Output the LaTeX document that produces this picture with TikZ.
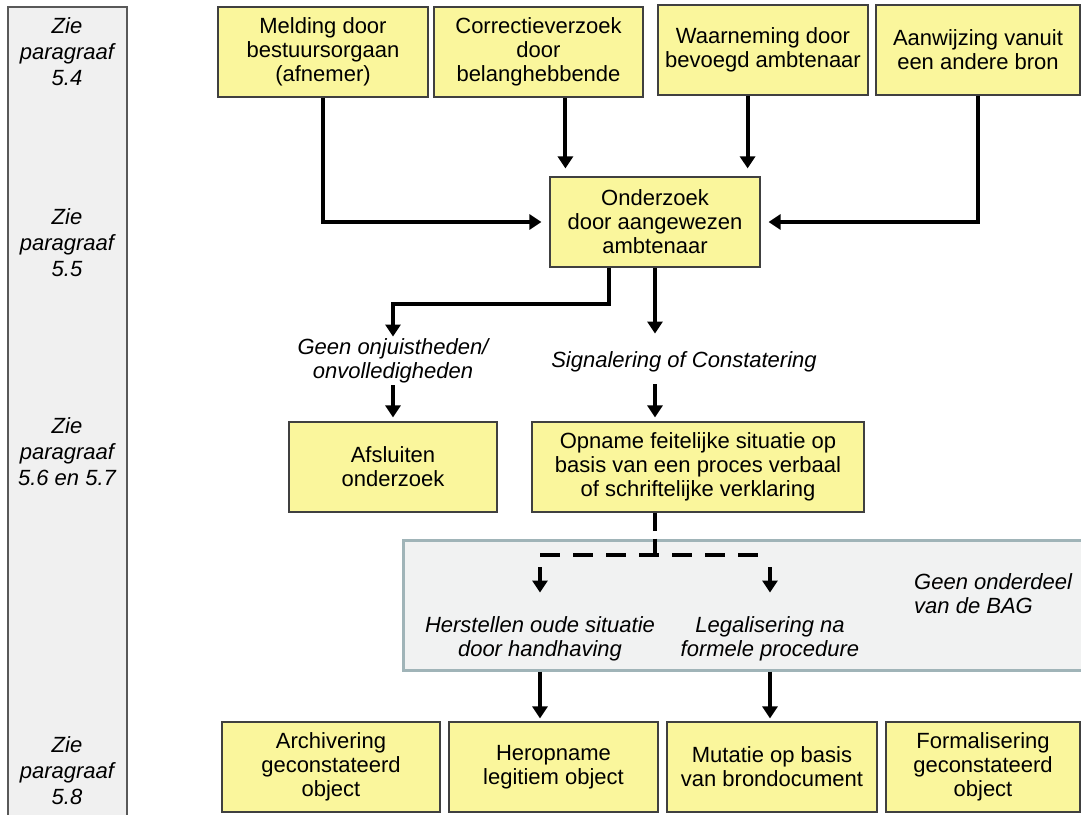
\documentclass[tikz,border=0pt]{standalone}
\usepackage{fontspec}
\setmainfont{Liberation Sans}
\usetikzlibrary{arrows.meta,positioning,calc}

\definecolor{boxyellow}{RGB}{250,246,156}
\definecolor{sidegray}{RGB}{240,240,240}
\definecolor{bagfill}{RGB}{241,242,242}
\definecolor{bagline}{RGB}{160,180,184}

\begin{document}
\begin{tikzpicture}
	[   x=1pt,y=-1pt,
		ybox/.style={draw=black!75,line width=1.2pt,fill=boxyellow,minimum height=90pt,minimum width=#1,align=center,inner sep=2pt,font=\fontsize{22}{24}\selectfont},
		itext/.style={align=center,inner sep=2pt,font=\fontsize{22}{24}\selectfont\itshape},
		bagbox/.style={draw=bagline,line width=3pt,fill=bagfill,minimum width=687pt,minimum height=130pt},
	]
	\tikzset{thick arrow/.style={draw,line width=4pt,-{Triangle[length=12pt,width=15pt]}}}
	\tikzset{dash line/.style={draw,line width=4pt,dash pattern=on 20pt off 13pt}}
	\useasboundingbox (0,0) rectangle (1081,814);
	
	\draw[draw=black!65,line width=1.5pt,fill=sidegray] (8,7) rectangle (127,840);
	\foreach \y/\nr [count=\i] in {52/5.4, 243/5.5, 452/{5.6 en 5.7}, 771/5.8}
	{
		\node[align=center,font=\fontsize{22}{26}\selectfont\itshape] (zie-\i) at (67,\y) {Zie\\paragraaf\\\nr};
	}
	
	\node[ybox=210pt] (mel) at (323,52) {Melding door\\bestuursorgaan\\(afnemer)};
	\node[ybox=209pt] (cor) at (538.5,52) {Correctieverzoek\\door\\belanghebbende};
	\node[ybox=210pt] (waa) at (763,50) {Waarneming door\\bevoegd ambtenaar};
	\node[ybox=204pt] (aan) at (978,50) {Aanwijzing vanuit\\een andere bron};
	
	\node[ybox=210pt] (ond) at (655,222) {Onderzoek\\door aangewezen\\ambtenaar};
	\coordinate (ond-l) at ([xshift=16pt]ond.north west);
	\coordinate (ond-r) at ([xshift=-13pt]ond.north east);
	\coordinate (ond-a) at ([xshift=60pt]ond.south west);
	\coordinate (split) at (0,304);
	
	\path[thick arrow,shorten >=8pt] (mel.south) |- (ond.west);
	\path[thick arrow,shorten >=8pt] (cor.south -| ond-l) -- (ond-l);
	\path[thick arrow,shorten >=8pt] (waa.south -| ond-r) -- (ond-r);
	\path[thick arrow,shorten >=8pt] (aan.south) |- (ond.east);
	
	\node[itext] (geen) at (393,361) {Geen onjuistheden/\\onvolledigheden};
	\node[itext] (sig) at (684,362) {Signalering of Constatering};
	\path[thick arrow] (ond-a) -- (ond-a |- split) -| (geen.north);
	\path[thick arrow,shorten >=16pt] (ond.south) -- (ond.south |- sig.north);
	
	\node[ybox=208pt] (afs) at (393,467) {Afsluiten\\onderzoek};
	\node[ybox=332pt] (opn) at (698,467) {Opname feitelijke situatie op\\basis van een proces verbaal\\of schriftelijke verklaring};
	\path[thick arrow,shorten >=4pt] (geen.south) -- (afs.north);
	\path[thick arrow,shorten <=10pt,shorten >=4pt] (ond.south |- sig.south) -- (ond.south |- opn.north);
	
	\node[bagbox] (bag) at (746.5,605) {};
	\node[itext] (herst) at (540,639) {Herstellen oude situatie\\door handhaving};
	\node[itext] (legal) at (770,639) {Legalisering na\\formele procedure};
	\node[itext,align=left,anchor=north west] (bagtxt) at (912,571) {Geen onderdeel\\van de BAG};
	\coordinate (dsh) at (655,555);
	\path[dash line,dash pattern=on 18pt off 8pt] (dsh |- opn.south) -- (dsh);
	\path[dash line] (herst |- dsh) -- (legal |- dsh);
	\path[thick arrow,shorten <=12pt,shorten >=22pt] (herst |- dsh) -- (herst.north);
	\path[thick arrow,shorten <=12pt,shorten >=22pt] (legal |- dsh) -- (legal.north);
	
	\node[ybox=218pt] (arc) at (331,767) {Archivering\\geconstateerd\\object};
	\node[ybox=209pt] (her) at (553.5,767) {Heropname\\legitiem object};
	\node[ybox=210pt] (mut) at (772,767) {Mutatie op basis\\van brondocument};
	\node[ybox=194pt] (frm) at (983,767) {Formalisering\\geconstateerd\\object};
	\path[thick arrow,shorten >=3pt] (herst |- bag.south) -- (herst |- her.north);
	\path[thick arrow,shorten >=3pt] (legal |- bag.south) -- (legal |- mut.north);
\end{tikzpicture}
\end{document}
